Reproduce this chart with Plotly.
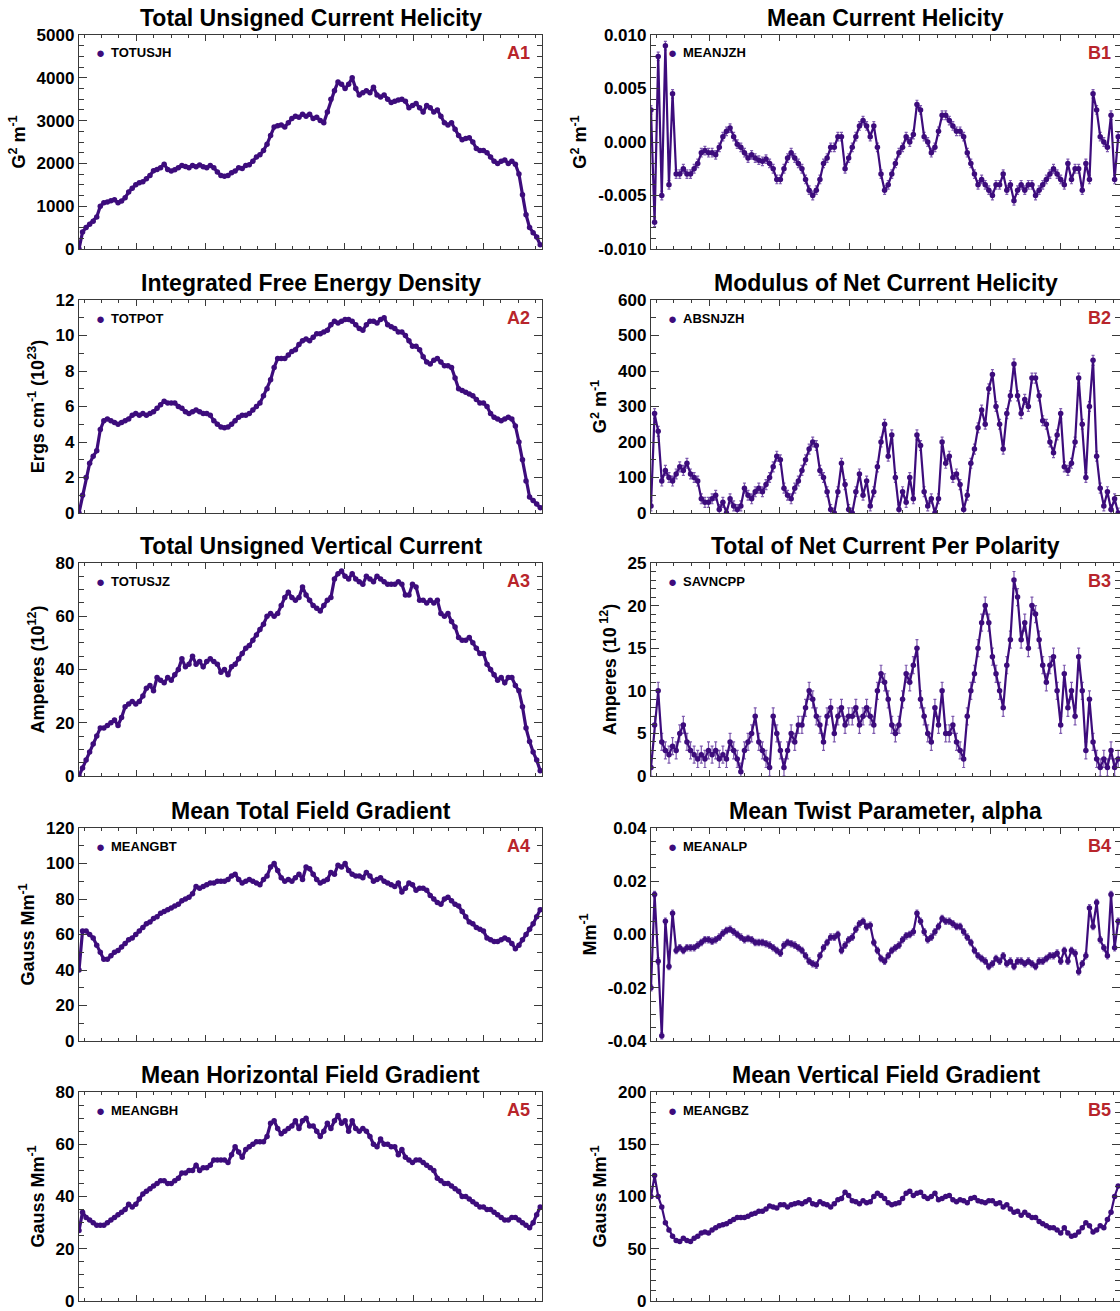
import numpy as np
import plotly.graph_objects as go

W, H = 1120, 1311

# ---- shared time axis (days); one major tick per day, minor every 6 h ----
X_START, X_END = -0.826, 5.845
SAMPLE_FRAC = 10 / 1305          # sampling step as fraction of the time window

# ---------------- data ----------------
totusjh = [
    0, 400, 500, 580, 650, 750, 1000, 1080, 1100, 1130,
    1150, 1080, 1120, 1200, 1330, 1420, 1500, 1550, 1570, 1640,
    1720, 1830, 1860, 1900, 1980, 1860, 1820, 1850, 1900, 1950,
    1930, 1900, 1950, 1920, 1960, 1920, 1900, 1950, 1900, 1800,
    1720, 1700, 1720, 1780, 1820, 1900, 1880, 1950, 1970, 2050,
    2150, 2200, 2300, 2450, 2650, 2850, 2880, 2900, 2850, 2950,
    3050, 3100, 3080, 3150, 3100, 3150, 3050, 3080, 3000, 2950,
    3200, 3500, 3700, 3900, 3850, 3750, 3850, 4000, 3750, 3600,
    3650, 3700, 3650, 3780, 3600, 3550, 3600, 3500, 3420, 3450,
    3480, 3500, 3450, 3300, 3350, 3400, 3300, 3200, 3350, 3300,
    3200, 3250, 3100, 2950, 2900, 2950, 2800, 2650, 2550, 2580,
    2600, 2500, 2350, 2300, 2300, 2250, 2150, 2050, 2000, 2050,
    2080, 2000, 2050, 1980, 1750, 1270, 800, 500, 380, 280,
    100]

totpot = [
    0, 1.0, 2.0, 2.8, 3.2, 3.5, 4.7, 5.2, 5.3, 5.2,
    5.1, 5.0, 5.1, 5.2, 5.3, 5.5, 5.6, 5.5, 5.6, 5.5,
    5.6, 5.7, 5.9, 6.1, 6.3, 6.2, 6.2, 6.2, 6.0, 5.9,
    5.7, 5.6, 5.7, 5.8, 5.7, 5.6, 5.6, 5.5, 5.2, 5.0,
    4.85, 4.8, 4.85, 5.0, 5.2, 5.4, 5.5, 5.5, 5.6, 5.8,
    6.0, 6.2, 6.6, 7.0, 7.5, 8.2, 8.7, 8.7, 8.7, 8.9,
    9.1, 9.2, 9.5, 9.7, 9.8, 9.7, 9.9, 10.1, 10.1, 10.2,
    10.3, 10.6, 10.8, 10.7, 10.8, 10.9, 10.9, 10.8, 10.6, 10.4,
    10.3, 10.6, 10.8, 10.8, 10.7, 10.9, 11.0, 10.6, 10.5, 10.4,
    10.2, 10.2, 10.0, 9.7, 9.4, 9.4, 9.2, 8.8, 8.5, 8.4,
    8.6, 8.7, 8.5, 8.3, 8.3, 8.2, 7.6, 7.0, 6.9, 6.8,
    6.7, 6.6, 6.4, 6.2, 6.2, 6.0, 5.6, 5.4, 5.3, 5.2,
    5.3, 5.4, 5.3, 4.9, 4.0, 3.0, 1.8, 0.9, 0.7, 0.5,
    0.3]

totusjz = [
    0, 3, 6, 9, 12, 15, 18, 18, 19, 20,
    21, 19, 22, 26, 27, 28, 27, 28, 30, 33,
    34, 32, 37, 36, 35, 37, 36, 38, 40, 44,
    41, 42, 45, 42, 43, 41, 43, 44, 43, 42,
    39, 40, 38, 41, 42, 44, 46, 48, 49, 51,
    53, 55, 57, 60, 61, 60, 61, 64, 67, 69,
    67, 66, 67, 71, 68, 66, 64, 63, 62, 64,
    66, 67, 74, 76, 77, 75, 74, 76, 74, 73,
    72, 75, 74, 73, 75, 74, 73, 72, 72, 72,
    73, 72, 68, 68, 72, 71, 66, 66, 65, 66,
    65, 66, 61, 60, 61, 58, 56, 52, 51, 51,
    52, 50, 48, 46, 46, 42, 40, 38, 36, 37,
    35, 37, 37, 34, 32, 26, 18, 13, 9, 6,
    2]

meangbt = [
    40, 62, 62, 60, 58, 54, 50, 46, 46, 48,
    50, 51, 53, 55, 57, 58, 60, 62, 64, 66,
    67, 69, 70, 72, 73, 74, 75, 76, 77, 79,
    80, 81, 83, 87, 86, 87, 88, 89, 89, 90,
    90, 90, 91, 93, 94, 91, 89, 90, 91, 90,
    89, 88, 91, 93, 98, 100, 96, 92, 90, 91,
    90, 92, 94, 91, 98, 97, 94, 91, 89, 90,
    91, 95, 94, 99, 98, 100, 96, 94, 93, 93,
    92, 95, 93, 90, 91, 92, 90, 89, 88, 87,
    89, 84, 86, 89, 88, 85, 86, 86, 85, 82,
    80, 78, 77, 80, 81, 79, 77, 76, 73, 70,
    67, 66, 64, 63, 62, 58, 57, 56, 56, 57,
    58, 57, 55, 52, 54, 57, 60, 63, 66, 70,
    74]

meangbh = [
    27, 34, 32, 31, 30, 29, 29, 29, 30, 31,
    32, 33, 34, 35, 37, 36, 37, 39, 41, 42,
    43, 44, 45, 46, 46, 45, 45, 46, 47, 49,
    49, 50, 50, 52, 50, 51, 51, 52, 54, 54,
    54, 54, 53, 56, 59, 57, 55, 58, 59, 60,
    61, 61, 61, 63, 68, 69, 66, 64, 65, 66,
    67, 69, 66, 69, 70, 67, 67, 65, 63, 65,
    68, 66, 69, 71, 68, 69, 65, 69, 66, 65,
    66, 65, 63, 60, 59, 62, 60, 60, 59, 59,
    56, 58, 55, 54, 53, 54, 54, 53, 52, 51,
    50, 47, 46, 45, 45, 44, 43, 42, 40, 40,
    39, 38, 37, 36, 36, 35, 35, 34, 33, 32,
    31, 31, 32, 32, 31, 30, 29, 28, 30, 33,
    36]

# in units of 1e-3 G^2 m^-1
meanjzh_e3 = [
    3, -7.5, 8, -5, 9, -4, 4.5, -3, -3, -2.5,
    -3, -3, -2.5, -2, -1, -0.8, -1, -1, -1.2, -0.5,
    0.5, 1, 1.3, 0.5, -0.2, -0.5, -1, -1.5, -1.2, -1.5,
    -1.7, -1.8, -1.6, -2, -2.5, -3.5, -3.5, -2.5, -1.5, -1,
    -1.5, -2, -2.5, -3.5, -4.5, -5, -4.5, -3.5, -2, -1.5,
    -0.5, -0.5, 0.5, 0.5, -2.5, -1.5, -0.5, 0.5, 1.5, 2,
    1.5, 0.5, 1.5, -0.5, -3, -4.5, -4, -3, -2, -1,
    -0.5, 0.5, 0, 0.7, 3.5, 3, 0.5, 0, -1, -0.5,
    1, 2.5, 2.5, 2, 1.5, 1, 1, 0.5, -1, -2,
    -3, -4, -3.5, -4, -4.5, -5, -4, -4, -3, -4.5,
    -4, -5.5, -4.5, -4, -4.5, -4, -4, -5, -4.5, -4,
    -3.5, -3, -2.5, -3, -3.5, -4, -2, -3.5, -2.5, -2.5,
    -4.5, -2, -3.5, 4.5, 3, 0.5, 0, -0.5, 2.5, -3.5,
    0.5]

absnjzh = [
    20, 280, 230, 90, 120, 100, 90, 110, 130, 120,
    140, 110, 100, 90, 40, 30, 30, 40, 50, 10,
    30, 0, 40, 20, 10, 20, 70, 50, 40, 60,
    70, 60, 80, 100, 130, 160, 150, 70, 50, 40,
    70, 90, 120, 150, 180, 200, 190, 120, 100, 60,
    10, 0, 60, 140, 80, 10, 0, 60, 110, 50,
    90, 20, 60, 130, 200, 250, 160, 220, 100, 10,
    60, 30, 100, 40, 220, 190, 60, 20, 40, 0,
    40, 200, 140, 160, 100, 110, 80, 10, 50, 140,
    180, 240, 290, 250, 350, 390, 300, 250, 180, 280,
    330, 420, 330, 280, 320, 300, 380, 380, 330, 260,
    250, 200, 170, 220, 280, 130, 120, 140, 200, 380,
    250, 100, 300, 430, 160, 70, 20, 60, 10, 40,
    0]

savncpp = [
    1, 6, 10, 4, 3, 2.5, 3.5, 3, 5, 6,
    4, 3, 2.5, 2, 2.5, 2, 3, 2.5, 3, 2,
    2.5, 2, 4, 3, 2, 0.5, 3, 4, 5, 7,
    4, 3, 2, 1, 7, 5, 3, 1, 3, 5,
    4, 6, 6, 8, 10, 9, 7, 6, 4, 7,
    8, 5, 7, 8, 6, 7, 7, 8, 6, 7,
    8, 7, 6, 10, 12, 11, 9, 6, 5, 6,
    9, 12, 11, 13, 15, 9, 7, 5, 4, 8,
    6, 10, 5, 5, 6, 4, 3, 2, 7, 10,
    12, 15, 18, 20, 18, 14, 12, 10, 8, 13,
    16, 23, 21, 16, 18, 15, 20, 19, 16, 13,
    11, 13, 14, 10, 6, 12, 8, 10, 7, 14,
    10, 3, 9, 4, 2, 1, 2, 1, 3, 1,
    2]

# in units of 1e-3 Mm^-1
meanalp_e3 = [
    -20, 15, -10, -38, 5, -12, 8, -6, -5, -6,
    -5, -5, -5, -4, -3, -2, -2, -2.5, -2, -1,
    0.5, 1.5, 2, 1, 0, -1, -2, -1.5, -2, -3,
    -3, -3, -3.5, -4, -5, -6, -7, -4, -3, -3.5,
    -4, -5, -6, -8, -10, -11, -11.5, -8, -5, -3,
    -1, -1, 0, -6, -4, -2, -1, 2, 4, 5,
    3, 3.5, -3, -6, -9, -10, -8, -6, -5, -4,
    -2, -0.5, 0, 1, 8, 5, 1, -2, -1, 1,
    3, 6, 5, 5, 4, 3, 3, 1, -1, -3,
    -6, -8, -9, -10, -12, -11, -9, -10, -8, -11,
    -10, -12, -10, -10, -11, -10, -11, -12, -10, -10,
    -9, -8, -8, -7, -10, -6, -10, -6, -7, -14,
    -11, -8, 10, 3, 12, -2, -5, -8, 15, -5,
    5]

meangbz = [
    100, 120, 100, 90, 75, 68, 62, 58, 57, 60,
    58, 57, 60, 62, 65, 66, 65, 68, 70, 72,
    73, 74, 76, 78, 80, 80, 80, 81, 83, 84,
    86, 86, 88, 91, 90, 89, 92, 92, 90, 92,
    93, 94, 93, 95, 97, 93, 92, 95, 93, 92,
    90, 93, 97, 98, 104, 101, 96, 95, 93, 96,
    94, 95, 100, 103, 101, 98, 94, 92, 93, 94,
    98, 103, 105, 101, 103, 104, 100, 98, 100, 103,
    97, 98, 100, 101, 97, 95, 97, 96, 94, 98,
    99, 96, 95, 94, 96, 96, 93, 94, 90, 92,
    88, 85, 86, 82, 85, 82, 80, 80, 76, 74,
    72, 70, 70, 68, 65, 70, 65, 62, 63, 66,
    70, 75, 72, 66, 68, 72, 70, 78, 85, 100,
    110]

# tick labels for signed panels (plain hyphen minus as in the reference)
meanjzh_ticks = [-0.010, -0.005, 0.0, 0.005, 0.010]
meanjzh_ticktext = ["-0.010", "-0.005", "0.000", "0.005", "0.010"]
meanalp_ticks = [-0.04, -0.02, 0.0, 0.02, 0.04]
meanalp_ticktext = ["-0.04", "-0.02", "0.00", "0.02", "0.04"]

PANELS = [
    dict(key="TOTUSJH", title="Total Unsigned Current Helicity", ytitle="G<sup>2</sup> m<sup>-1</sup>",
         y=totusjh, scale=1, yr=[0, 5000], dtick=1000, minor=250, lab="A1", err=None),
    dict(key="TOTPOT", title="Integrated Free Energy Density", ytitle="Ergs cm<sup>-1</sup> (10<sup>23</sup>)",
         y=totpot, scale=1, yr=[0, 12], dtick=2, minor=1, lab="A2", err=None),
    dict(key="TOTUSJZ", title="Total Unsigned Vertical Current", ytitle="Amperes (10<sup>12</sup>)",
         y=totusjz, scale=1, yr=[0, 80], dtick=20, minor=5, lab="A3", err=None),
    dict(key="MEANGBT", title="Mean Total Field Gradient", ytitle="Gauss Mm<sup>-1</sup>",
         y=meangbt, scale=1, yr=[0, 120], dtick=20, minor=10, lab="A4", err=None),
    dict(key="MEANGBH", title="Mean Horizontal Field Gradient", ytitle="Gauss Mm<sup>-1</sup>",
         y=meangbh, scale=1, yr=[0, 80], dtick=20, minor=5, lab="A5", err=None),
    dict(key="MEANJZH", title="Mean Current Helicity", ytitle="G<sup>2</sup> m<sup>-1</sup>",
         y=meanjzh_e3, scale=1e-3, yr=[-0.010, 0.010], dtick=0.005, minor=0.001, lab="B1", err=0.0004,
         tv=meanjzh_ticks, tt=meanjzh_ticktext),
    dict(key="ABSNJZH", title="Modulus of Net Current Helicity", ytitle="G<sup>2</sup> m<sup>-1</sup>",
         y=absnjzh, scale=1, yr=[0, 600], dtick=100, minor=50, lab="B2", err=14),
    dict(key="SAVNCPP", title="Total of Net Current Per Polarity", ytitle="Amperes (10<sup> 12</sup>)",
         y=savncpp, scale=1, yr=[0, 25], dtick=5, minor=1, lab="B3", err=1.0),
    dict(key="MEANALP", title="Mean Twist Parameter, alpha", ytitle="Mm<sup>-1</sup>",
         y=meanalp_e3, scale=1e-3, yr=[-0.04, 0.04], dtick=0.02, minor=0.005, lab="B4", err=0.0012,
         tv=meanalp_ticks, tt=meanalp_ticktext),
    dict(key="MEANGBZ", title="Mean Vertical Field Gradient", ytitle="Gauss Mm<sup>-1</sup>",
         y=meangbz, scale=1, yr=[0, 200], dtick=50, minor=10, lab="B5", err=None),
]

# ---------------- layout geometry (pixels) ----------------
COL_X = [(79, 542), (651, 1120)]
ROW_Y = [(35, 249), (300, 513), (563, 776), (828, 1041), (1092, 1301)]

PURPLE = "#3d0c7c"
ERRCOL = "rgba(118,80,170,0.95)"
AXCOL = "#3a3a3a"
LABRED = "#b8252b"
FONT = "Liberation Sans, Arial, Helvetica, sans-serif"


def px_x(p):
    return p / W


def px_y(p):
    return 1 - p / H


fig = go.Figure()
annotations = []
layout = dict(width=W, height=H, margin=dict(l=0, r=0, t=0, b=0, autoexpand=False),
              paper_bgcolor="white", plot_bgcolor="white", showlegend=False,
              font=dict(family=FONT, color="black"))

for i, p in enumerate(PANELS):
    col, row = divmod(i, 5)
    x0, x1 = COL_X[col]
    top, bot = ROW_Y[row]
    n = len(p["y"])
    xs = X_START + (X_END - X_START) * SAMPLE_FRAC * np.arange(n)
    ys = np.array(p["y"], dtype=float) * p["scale"]
    lw = 3.2 if col == 0 else 2.2
    tr = dict(x=xs, y=ys, mode="lines+markers",
              line=dict(color=PURPLE, width=lw),
              marker=dict(size=5.5, color=PURPLE, line=dict(width=0)),
              xaxis=f"x{i+1}", yaxis=f"y{i+1}", hoverinfo="skip")
    if p["err"] is not None:
        tr["error_y"] = dict(type="constant", value=p["err"], color=ERRCOL, thickness=1.2, width=1.5)
    fig.add_trace(go.Scatter(**tr))

    xa = dict(domain=[px_x(x0), px_x(x1)], range=[X_START, X_END], anchor=f"y{i+1}",
              automargin=False,
              showline=True, linecolor=AXCOL, linewidth=1.3, mirror="ticks",
              ticks="inside", ticklen=6, tickwidth=1.2, tickcolor=AXCOL, tick0=0, dtick=1,
              showticklabels=False, showgrid=False, zeroline=False, fixedrange=True,
              minor=dict(ticks="inside", ticklen=3, tickwidth=1.2, tickcolor=AXCOL, dtick=0.25, tick0=0,
                         showgrid=False))
    ya = dict(domain=[px_y(bot), px_y(top)], range=p["yr"], anchor=f"x{i+1}",
              automargin=False,
              showline=True, linecolor=AXCOL, linewidth=1.3, mirror="ticks",
              ticks="inside", ticklen=8, tickwidth=1.2, tickcolor=AXCOL,
              showgrid=False, zeroline=False, fixedrange=True,
              tickfont=dict(family=FONT, size=17, color="black", weight="bold"),
              title=dict(text=p["ytitle"], font=dict(family=FONT, size=18, color="black", weight="bold"),
                         standoff=6),
              minor=dict(ticks="inside", ticklen=5, tickwidth=1.2, tickcolor=AXCOL, dtick=p["minor"],
                         tick0=0, showgrid=False))
    if "tv" in p:
        ya["tickmode"] = "array"
        ya["tickvals"] = p["tv"]
        ya["ticktext"] = p["tt"]
    else:
        ya["tick0"] = 0
        ya["dtick"] = p["dtick"]
    layout[f"xaxis{i+1}"] = xa
    layout[f"yaxis{i+1}"] = ya

    # panel title
    annotations.append(dict(text=p["title"], x=px_x((x0 + x1) / 2), y=px_y(top - 17),
                            xref="paper", yref="paper", xanchor="center", yanchor="middle",
                            showarrow=False, font=dict(family=FONT, size=23, color="black", weight="bold")))
    # legend dot + key
    annotations.append(dict(text="●", x=px_x(x0 + 21), y=px_y(top + 18),
                            xref="paper", yref="paper", xanchor="center", yanchor="middle",
                            showarrow=False, font=dict(family=FONT, size=15, color=PURPLE)))
    annotations.append(dict(text=p["key"], x=px_x(x0 + 30), y=px_y(top + 18),
                            xref="paper", yref="paper", xanchor="left", yanchor="middle",
                            showarrow=False, font=dict(family=FONT, size=13, color="black", weight="bold")))
    # panel label
    annotations.append(dict(text=p["lab"], x=px_x(x1 - 10 if col == 0 else x1 - 7), y=px_y(top + 18),
                            xref="paper", yref="paper", xanchor="right", yanchor="middle",
                            showarrow=False, font=dict(family=FONT, size=18, color=LABRED, weight="bold")))

layout["annotations"] = annotations
fig.update_layout(**layout)
fig.write_html("out.html", config={"displayModeBar": False},
               post_script="document.body.style.margin='0';document.body.style.overflow='hidden';")
